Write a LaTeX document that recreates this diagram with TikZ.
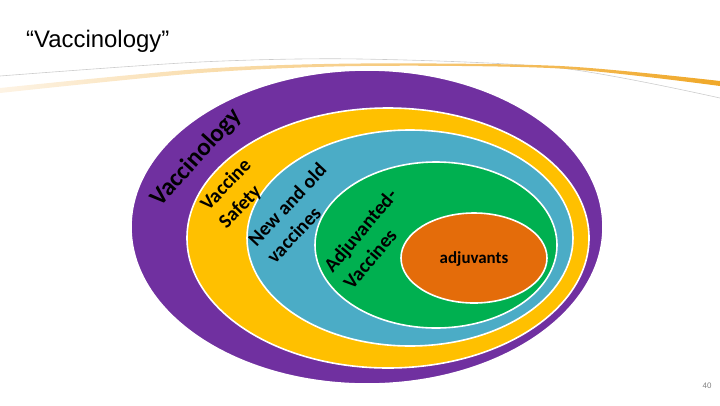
\documentclass[tikz,border=0pt]{standalone}
\usepackage{fontspec}
\setmainfont{Carlito}
\newfontfamily\arialfont{Liberation Sans}
\usetikzlibrary{positioning}
\definecolor{vacpurple}{RGB}{112,48,160}
\definecolor{vacyellow}{RGB}{255,192,0}
\definecolor{vacteal}{RGB}{75,172,198}
\definecolor{vacgreen}{RGB}{0,176,80}
\definecolor{vacorange}{RGB}{228,108,10}
\definecolor{swooshcream}{RGB}{253,243,228}
\definecolor{swooshorange}{RGB}{240,168,40}

\begin{document}
\begin{tikzpicture}[x=1bp,y=-1bp,ring/.style={draw=white,line width=1.6bp},lbl/.style={font=\fontsize{20}{25.5}\selectfont\bfseries,inner sep=0pt,align=left,anchor=north west}]
\useasboundingbox (0,0) rectangle (720,405);
\draw[gray!40,line width=0.6bp] plot[smooth] coordinates {(0,76) (200,62) (360,59) (560,68) (720,98)};
\shade[left color=swooshcream,right color=swooshorange] plot[smooth] coordinates {(0,88) (200,69) (360,63.5) (560,66) (720,81)} -- plot[smooth] coordinates {(720,86) (560,68.5) (360,66) (200,73) (0,93)} -- cycle;
\filldraw[ring,fill=vacpurple] (367,227) ellipse [x radius=236,y radius=157];
\filldraw[ring,fill=vacyellow] (388,238) ellipse [x radius=201,y radius=130];
\filldraw[ring,fill=vacteal] (410,238) ellipse [x radius=163,y radius=108];
\filldraw[ring,fill=vacgreen] (436,245) ellipse [x radius=121,y radius=83];
\filldraw[ring,fill=vacorange] (474,258) ellipse [x radius=73,y radius=45];
\node[font=\arialfont\fontsize{24}{28}\selectfont,anchor=base west,inner sep=0pt] (title) at (26,47) {“Vaccinology”};
\node[lbl,font=\fontsize{25}{29}\selectfont\bfseries,anchor=base west,rotate=48] (vaccinology) at (160,208) {Vaccinology};
\node[lbl,rotate=46] (safety) at (198,202) {Vaccine\\Safety};
\node[lbl,rotate=47] (newold) at (246,238) {New and old\\vaccines};
\node[lbl,rotate=50] (adjvac) at (322,265) {Adjuvanted-\\Vaccines};
\node[font=\fontsize{17}{20}\selectfont\bfseries] (adj) at (474,259) {adjuvants};
\node[font=\arialfont\fontsize{8}{9}\selectfont,text=gray] (page) at (707,386) {40};
\end{tikzpicture}
\end{document}
